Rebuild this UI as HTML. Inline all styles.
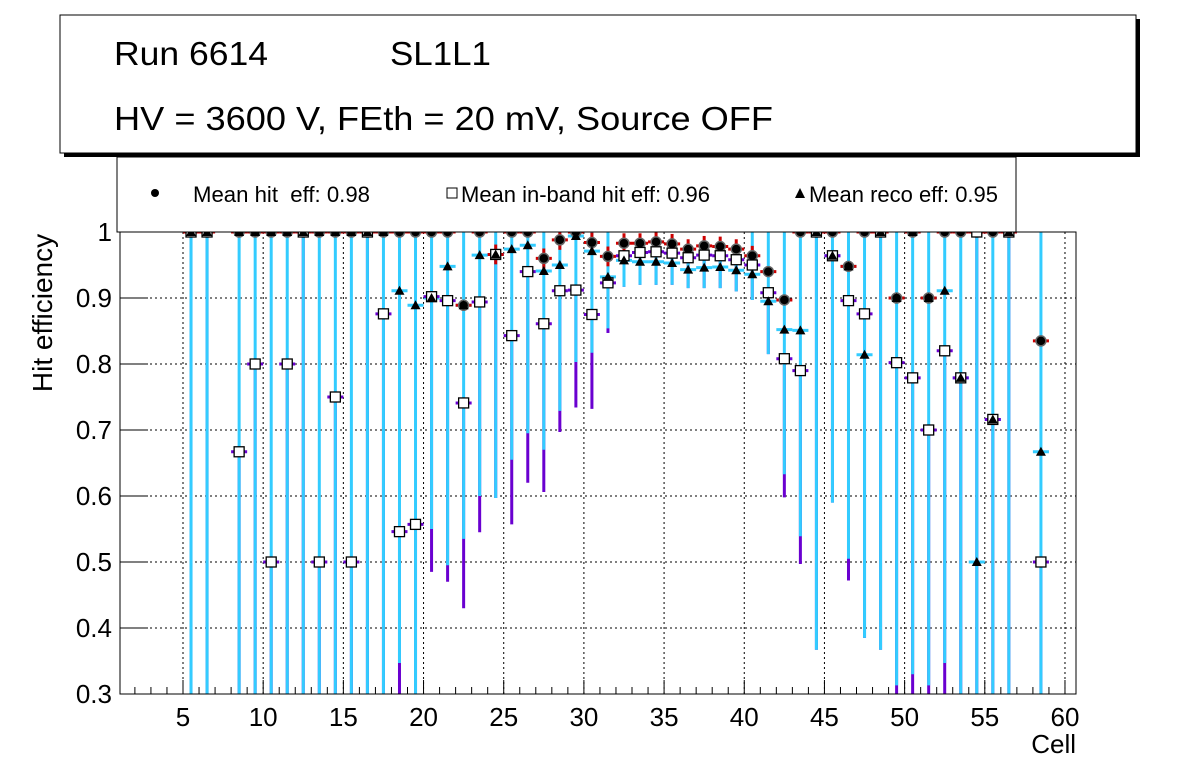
<!DOCTYPE html>
<html><head><meta charset="utf-8"><style>
body{margin:0;background:#fff;}
svg text{font-family:"Liberation Sans",Arial,sans-serif;}
</style></head><body>
<svg id="chart" width="1196" height="772" xmlns="http://www.w3.org/2000/svg">
<defs><clipPath id="pc"><rect x="120" y="232" width="956" height="462"/></clipPath></defs>
<rect width="1196" height="772" fill="#fff"/>
<g>
<rect x="64" y="19" width="1076" height="138" fill="#000"/>
<rect x="60" y="15" width="1076" height="138" fill="#fff" stroke="#000" stroke-width="1"/>
<text x="114" y="65" font-size="33" textLength="154" lengthAdjust="spacingAndGlyphs">Run 6614</text>
<text x="390" y="65" font-size="33" textLength="101" lengthAdjust="spacingAndGlyphs">SL1L1</text>
<text x="114" y="130" font-size="33" textLength="659" lengthAdjust="spacingAndGlyphs">HV = 3600 V, FEth = 20 mV, Source OFF</text>
</g>
<g>
<rect x="117" y="157" width="899" height="75" fill="#fff" stroke="#000" stroke-width="1"/>
<circle cx="155" cy="193" r="4" fill="#000"/>
<text x="193" y="202" font-size="22" textLength="177" lengthAdjust="spacingAndGlyphs">Mean hit &#160;eff: 0.98</text>
<rect x="447" y="188" width="10" height="10" fill="#fff" stroke="#000"/>
<text x="461" y="202" font-size="22" textLength="249" lengthAdjust="spacingAndGlyphs">Mean in-band hit eff: 0.96</text>
<path d="M795,198 L800,188 L805,198 Z" fill="#000"/>
<text x="809" y="202" font-size="22" textLength="189" lengthAdjust="spacingAndGlyphs">Mean reco eff: 0.95</text>
</g>
<g id="grid"></g>
<g id="marks" clip-path="url(#pc)"></g>
<rect x="120" y="232" width="956" height="462" fill="none" stroke="#000" stroke-width="1"/>
<g id="axes"></g>
<text x="52" y="313" font-size="28" text-anchor="middle" transform="rotate(-90 52 313)">Hit efficiency</text>
<text x="1076" y="753" font-size="26" text-anchor="end">Cell</text>
</svg>
<script>
const cells   = [5,6,8,9,10,11,12,13,14,15,16,17,18,19,20,21,22,23,24,25,26,27,28,29,30,31,32,33,34,35,36,37,38,39,40,41,42,43,44,45,46,47,48,49,50,51,52,53,54,55,56,58];
const hitEff  = [1,1,1,1,1,1,1,1,1,1,1,1,1,1,1,1,0.889,1,0.966,1,1,0.96,0.988,1,0.984,0.963,0.983,0.983,0.985,0.982,0.974,0.979,0.978,0.974,0.964,0.94,0.897,1,1,1,0.948,1,1,0.9,1,0.9,1,1,1,1,1,0.835];
const inbandEff=[1,1,0.667,0.8,0.5,0.8,1,0.5,0.75,0.5,1,0.876,0.546,0.557,0.902,0.896,0.741,0.894,0.966,0.843,0.94,0.861,0.911,0.912,0.875,0.923,0.964,0.969,0.97,0.968,0.961,0.965,0.964,0.958,0.95,0.908,0.808,0.79,1,0.964,0.896,0.876,1,0.802,0.779,0.7,0.82,0.779,1,0.716,1,0.5];
const recoEff = [1,1,1,1,1,1,1,1,1,1,1,1,0.911,0.889,0.9,0.948,0.889,0.965,0.966,0.974,0.98,0.941,0.95,0.994,0.971,0.932,0.957,0.955,0.955,0.953,0.943,0.946,0.947,0.942,0.936,0.895,0.852,0.851,1,0.964,0.948,0.814,1,0.9,1,0.9,0.911,0.779,0.5,0.716,1,0.667];
const recoErrHi=[1,1,1,1,1,1,1,1,1,1,1,1,1,1,1,1,1,1,1,1,1,1,1,1,1,1,0.985,0.985,0.985,0.985,0.98,0.98,0.98,0.98,1,1,1,1,1,1,1,1,1,1,1,1,1,1,1,1,1,1];
const recoErrLo=[0,0,0,0,0,0,0,0,0,0,0,0,0.347,0,0.55,0.495,0.535,0.6,0.597,0.655,0.695,0.67,0.729,0.803,0.817,0.854,0.917,0.92,0.92,0.92,0.915,0.915,0.915,0.91,0.897,0.815,0.633,0.539,0.367,0.59,0.505,0.385,0.367,0.313,0.33,0.313,0.347,0,0,0,0,0];
const inbandErrLo=[0,0,0,0,0,0,0,0,0,0,0,0,0,0,0.485,0.47,0.43,0.545,0.597,0.557,0.62,0.606,0.697,0.734,0.732,0.847,0.917,0.92,0.92,0.92,0.915,0.915,0.915,0.91,0.897,0.815,0.598,0.497,0.367,0.59,0.472,0.385,0.367,0,0,0,0,0,0,0,0,0];
const yTicks  = [0.3,0.4,0.5,0.6,0.7,0.8,0.9,1];
const xTicks  = [5,10,15,20,25,30,35,40,45,50,55,60];

const NS="http://www.w3.org/2000/svg";
const X=v=>183+(v-5)*16.036;
const Y=v=>232+(1-v)*660;
function mk(tag,at,p){const e=document.createElementNS(NS,tag);for(const k in at)e.setAttribute(k,at[k]);p.appendChild(e);return e;}
const grid=document.getElementById('grid'),marks=document.getElementById('marks'),axes=document.getElementById('axes');
yTicks.forEach(t=>{
 const y=Y(t);
 const g=mk('line',{x1:120,x2:1076,y1:y,y2:y,stroke:'#000','stroke-dasharray':'2,3','stroke-width':1},grid);
 
 
 const tk=mk('line',{x1:120,x2:148,y1:y,y2:y,stroke:'#000'},axes);
 
 
 const tx=mk('text',{x:112,y:y+9,'font-size':26,'text-anchor':'end'},axes);
 tx.textContent=String(t);
 
 
});
xTicks.forEach(t=>{
 const x=X(t);
 const g=mk('line',{x1:x,x2:x,y1:232,y2:694,stroke:'#000','stroke-dasharray':'2,3','stroke-width':1},grid);
 
 
 const tk=mk('line',{x1:x,x2:x,y1:694,y2:680,stroke:'#000'},axes);
 
 
 const tx=mk('text',{x:x,y:726,'font-size':26,'text-anchor':'middle'},axes);
 tx.textContent=String(t);
 
 
});
for(let i=1;i<61;i++){ if(i%5) { const x=X(i); if(x>120&&x<1076){
 const m=mk('line',{x1:x,x2:x,y1:694,y2:687,stroke:'#000'},axes);
 
 } } }
const lo=v=>Math.max(v,0.28);
cells.forEach((c,i)=>{
 const x=X(c+0.5);
 const p=mk('line',{x1:x,x2:x,y1:Y(inbandEff[i]),y2:Y(lo(inbandErrLo[i])),stroke:'#6a00d0','stroke-width':3},marks);
 
 
});
cells.forEach((c,i)=>{
 const x=X(c+0.5);
 const cy=mk('line',{x1:x,x2:x,y1:Y(recoErrHi[i]),y2:Y(lo(recoErrLo[i])),stroke:'#33ccff','stroke-width':3},marks);
 
 
 const h=mk('line',{x1:X(c),x2:X(c+1),y1:Y(recoEff[i]),y2:Y(recoEff[i]),stroke:'#33ccff','stroke-width':3},marks);
 
 
 const hp=mk('line',{x1:X(c),x2:X(c+1),y1:Y(inbandEff[i]),y2:Y(inbandEff[i]),stroke:'#6a00d0','stroke-width':3},marks);
 
 
 const hr=mk('line',{x1:X(c),x2:X(c+1),y1:Y(hitEff[i]),y2:Y(hitEff[i]),stroke:'#cc0000','stroke-width':3},marks);
 
 
 if(hitEff[i]<1&&hitEff[i]>0.95){
  const vr=mk('line',{x1:x,x2:x,y1:Y(hitEff[i]+0.015),y2:Y(hitEff[i]-0.015),stroke:'#cc0000','stroke-width':3},marks);
  
  
 }
});
cells.forEach((c,i)=>{
 const x=X(c+0.5);
 const h=mk('circle',{cx:x,cy:Y(hitEff[i]),r:5,fill:'#000',stroke:'#666','stroke-width':1.5},marks);
 
 
 const s=mk('rect',{x:x-5,y:Y(inbandEff[i])-5,width:10,height:10,fill:'#fff',stroke:'#000','stroke-width':1.3},marks);
 
 
 const y=Y(recoEff[i]);
 const t=mk('path',{d:`M${x-5},${y+4} L${x},${y-5} L${x+5},${y+4} Z`,fill:'#000'},marks);
 
 
});
</script>
</body></html>
